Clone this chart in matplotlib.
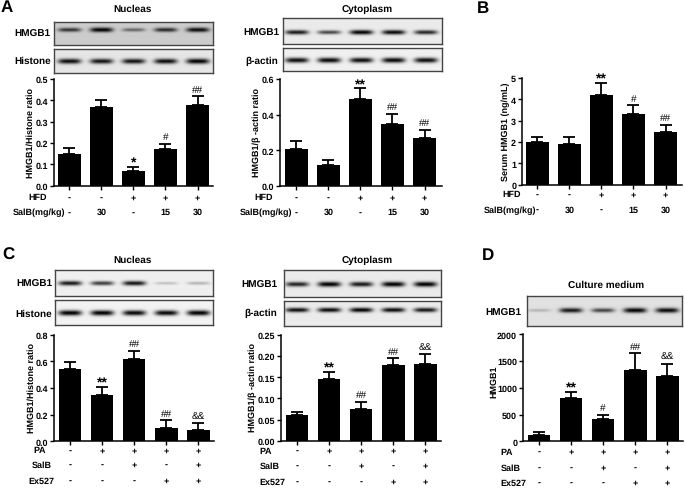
import numpy as np
import matplotlib
matplotlib.use('Agg')
import matplotlib.pyplot as plt

plt.rcParams['font.family'] = ['Liberation Sans', 'DejaVu Sans']
plt.rcParams['font.weight'] = 'bold'
plt.rcParams['text.hinting'] = 'no_hinting'
plt.rcParams['text.hinting_factor'] = 1

W, H = 685, 489

# bar heights and top of the error bars
a1_vals = [0.15, 0.37, 0.07, 0.17, 0.38]
a1_tops = [0.177, 0.402, 0.088, 0.197, 0.42]
a1_sig = ['', '', '*', '#', '##']
a2_vals = [0.21, 0.117, 0.49, 0.35, 0.27]
a2_tops = [0.25, 0.145, 0.548, 0.405, 0.315]
a2_sig = ['', '', '**', '##', '##']
b_vals = [2.0, 1.9, 4.2, 3.3, 2.45]
b_tops = [2.22, 2.22, 4.77, 3.72, 2.82]
b_sig = ['', '', '**', '#', '##']
c1_vals = [0.545, 0.345, 0.615, 0.097, 0.085]
c1_tops = [0.595, 0.41, 0.68, 0.158, 0.135]
c1_sig = ['', '**', '##', '##', '&&']
c2_vals = [0.062, 0.146, 0.076, 0.178, 0.181]
c2_tops = [0.068, 0.163, 0.092, 0.195, 0.204]
c2_sig = ['', '**', '##', '##', '&&']
d_vals = [125, 815, 415, 1340, 1220]
d_tops = [165, 925, 495, 1645, 1450]
d_sig = ['', '**', '#', '##', '&&']

# treatment rows under the bars
hfd_row = ['-', '-', '+', '+', '+']
salb_dose_row = ['-', '30', '-', '15', '30']
pa_row = ['-', '+', '+', '+', '+']
salb_row = ['-', '-', '+', '-', '+']
ex527_row = ['-', '-', '-', '+', '+']

# band strength per lane, 0 to 1
a1_hmgb1_bands = [0.75, 1.0, 0.5, 0.8, 0.95]
a1_histone_bands = [0.95, 0.92, 0.92, 0.95, 1.0]
a2_hmgb1_bands = [0.9, 0.7, 1.0, 0.97, 0.85]
a2_actin_bands = [0.95, 0.97, 0.95, 0.97, 0.95]
c1_hmgb1_bands = [0.9, 0.75, 0.92, 0.2, 0.25]
c1_histone_bands = [1.0, 1.0, 0.97, 0.97, 1.0]
c2_hmgb1_bands = [0.85, 1.0, 0.9, 1.0, 1.0]
c2_actin_bands = [0.95, 0.97, 1.0, 0.97, 0.92]
d_hmgb1_bands = [0.2, 0.9, 0.7, 1.0, 0.97]


def px_axes(fig, left, right, top, bottom, **kw):
    return fig.add_axes([left / W, 1 - bottom / H, (right - left) / W, (bottom - top) / H], **kw)


def put_text(fig, x, y, s, size=6.4, ha='left', rotation=0):
    fig.text(x / W, 1 - y / H, s, fontsize=size, ha=ha, va='center',
             rotation=rotation, fontweight='bold', color='black')


def draw_bars(fig, box, first, vals, tops, sig, ymax, ystep, fmt, ylab, ylab_pos):
    left, right, top, bottom = box
    step = 32.05
    ax = px_axes(fig, left, right, top, bottom)
    x = np.arange(len(vals))
    err = np.array(tops) - np.array(vals)
    ax.bar(x, vals, width=0.71, color='black')
    ax.errorbar(x, vals, yerr=[np.zeros(len(vals)), err], fmt='none', ecolor='black',
                elinewidth=1.3, capsize=4.3, capthick=1.3)
    ax.set_xlim((left - first) / step, (right - first) / step)
    ax.set_ylim(0, ymax)
    ax.set_yticks(np.arange(0, ymax + ystep / 2, ystep))
    ax.yaxis.set_major_formatter(matplotlib.ticker.FormatStrFormatter(fmt))
    ax.set_xticks(x)
    ax.set_xticklabels([])
    ax.tick_params(axis='y', labelsize=6.2, length=3, width=1, pad=1)
    ax.tick_params(axis='x', length=3, width=1)
    for name in ['top', 'right']:
        ax.spines[name].set_visible(False)
    for name in ['left', 'bottom']:
        ax.spines[name].set_linewidth(1.1)
    for i, s in enumerate(sig):
        if s:
            star = s.startswith('*')
            ax.annotate(s, (x[i], tops[i]), xytext=(0, 0 if star else 3.2),
                        textcoords='offset points', ha='center', va='baseline',
                        fontsize=10 if star else 7.5, fontweight='bold' if star else 'normal',
                        annotation_clip=False)
    put_text(fig, ylab_pos[0], ylab_pos[1], ylab, ha='center', rotation=90)


def draw_rows(fig, first, rows):
    for label, right, y, cells in rows:
        put_text(fig, right, y, label, ha='right')
        for i, c in enumerate(cells):
            put_text(fig, first + i * 32.05, y, c, ha='center')


def draw_blot(fig, box, first, bands, ypos, sigma, bg):
    left, right, top, bottom = box
    ax = px_axes(fig, left, right, top, bottom)
    xx, yy = np.meshgrid(np.arange(left, right, 0.5), np.arange(top, bottom, 0.5))
    img = np.full(xx.shape, bg)
    yc = top + ypos * (bottom - top)
    for i, b in enumerate(bands):
        cx = first + i * 32.05
        across = np.exp(-((xx - cx) / 11.5) ** 4)
        along = np.exp(-((yy - yc) / (sigma * (0.5 + 0.5 * b))) ** 2)
        img = img - b * across * along * bg
    ax.imshow(img, cmap='gray', vmin=0, vmax=1, aspect='auto', interpolation='bilinear',
              extent=(left, right, bottom, top))
    ax.set_xticks([])
    ax.set_yticks([])
    for sp in ax.spines.values():
        sp.set_linewidth(1)
        sp.set_color('#444444')


fig = plt.figure(figsize=(W / 100, H / 100), dpi=100)

# panel A, nucleus
draw_blot(fig, (54, 212.7, 22.7, 46), 69.3, a1_hmgb1_bands, 0.36, 2.3, 0.8)
draw_blot(fig, (54, 212.7, 50, 74), 69.3, a1_histone_bands, 0.5, 2.6, 0.9)
draw_bars(fig, (54, 213, 80, 186.7), 69.3, a1_vals, a1_tops, a1_sig, 0.5, 0.1, '%.1f',
          'HMGB1/Histone ratio', (30.7, 132.7))
draw_rows(fig, 69.3, [('HFD', 47, 198, hfd_row), ('SalB(mg/kg)', 65.7, 213, salb_dose_row)])

# panel A, cytoplasm
draw_blot(fig, (282.7, 441.7, 19, 45), 296.3, a2_hmgb1_bands, 0.54, 2.3, 0.92)
draw_blot(fig, (282.7, 441.7, 48.7, 72.3), 296.3, a2_actin_bands, 0.55, 2.6, 0.94)
draw_bars(fig, (280, 441.7, 80, 187), 296.3, a2_vals, a2_tops, a2_sig, 0.6, 0.2, '%.1f',
          'HMGB1/β -actin ratio', (257.3, 132.7))
draw_rows(fig, 296.3, [('HFD', 273, 198, hfd_row), ('SalB(mg/kg)', 292.7, 213, salb_dose_row)])

# panel B
draw_bars(fig, (521.7, 681.7, 79, 185.7), 537.3, b_vals, b_tops, b_sig, 5, 1, '%d',
          'Serum HMGB1 (ng/mL)', (505.3, 131.7))
draw_rows(fig, 537.3, [('HFD', 521, 195, hfd_row), ('SalB(mg/kg)', 536, 210.7, salb_dose_row)])

# panel C, nucleus
draw_blot(fig, (55, 213, 271.3, 297.3), 70, c1_hmgb1_bands, 0.5, 2.4, 0.94)
draw_blot(fig, (55, 213, 301, 326.3), 70, c1_histone_bands, 0.53, 2.6, 0.95)
draw_bars(fig, (54, 214, 335.7, 442.3), 70, c1_vals, c1_tops, c1_sig, 0.8, 0.2, '%.1f',
          'HMGB1/Histone ratio', (31, 388))
draw_rows(fig, 70, [('PA', 45.7, 451, pa_row), ('SalB', 51.7, 465.7, salb_row),
                    ('Ex527', 54, 481.7, ex527_row)])

# panel C, cytoplasm
draw_blot(fig, (284, 441, 271.3, 297.7), 297, c2_hmgb1_bands, 0.52, 2.5, 0.92)
draw_blot(fig, (284, 441, 301.7, 327.3), 297, c2_actin_bands, 0.38, 2.3, 0.92)
draw_bars(fig, (280.7, 440.7, 335.7, 442), 297, c2_vals, c2_tops, c2_sig, 0.25, 0.05, '%.2f',
          'HMGB1/β -actin ratio', (252.7, 387.7))
draw_rows(fig, 297, [('PA', 271.7, 451.7, pa_row), ('SalB', 280, 466.7, salb_row),
                     ('Ex527', 285, 482.7, ex527_row)])

# panel D
draw_blot(fig, (527.3, 682, 296.7, 326.7), 539, d_hmgb1_bands, 0.47, 2.5, 0.88)
draw_bars(fig, (522.7, 682.7, 335.3, 442.3), 539, d_vals, d_tops, d_sig, 2000, 500, '%d',
          'HMGB1', (494, 381.7))
draw_rows(fig, 539, [('PA', 513.3, 452.7, pa_row), ('SalB', 520.7, 468.3, salb_row),
                     ('Ex527', 526.7, 483.7, ex527_row)])

# blot names
for x, y, s in [(14.7, 34, 'HMGB1'), (14.7, 61, 'Histone'), (243, 33, 'HMGB1'), (245.7, 61, 'β-actin'),
                (16, 284, 'HMGB1'), (15.3, 314, 'Histone'), (241.7, 285, 'HMGB1'), (244, 313, 'β-actin'),
                (485.3, 313.3, 'HMGB1')]:
    put_text(fig, x, y, s, size=7.4)

# titles and panel letters
for x, y, s in [(133, 9, 'Nucleas'), (367, 9.3, 'Cytoplasm'), (133, 260.7, 'Nucleas'),
                (367, 260.7, 'Cytoplasm'), (605.7, 285, 'Culture medium')]:
    put_text(fig, x, y, s, size=7.4, ha='center')
for x, y, s in [(1, 8, 'A'), (476.7, 8.7, 'B'), (2, 255.7, 'C'), (481.7, 255.7, 'D')]:
    put_text(fig, x, y, s, size=12.5)

fig.savefig('out.png', dpi=100)
